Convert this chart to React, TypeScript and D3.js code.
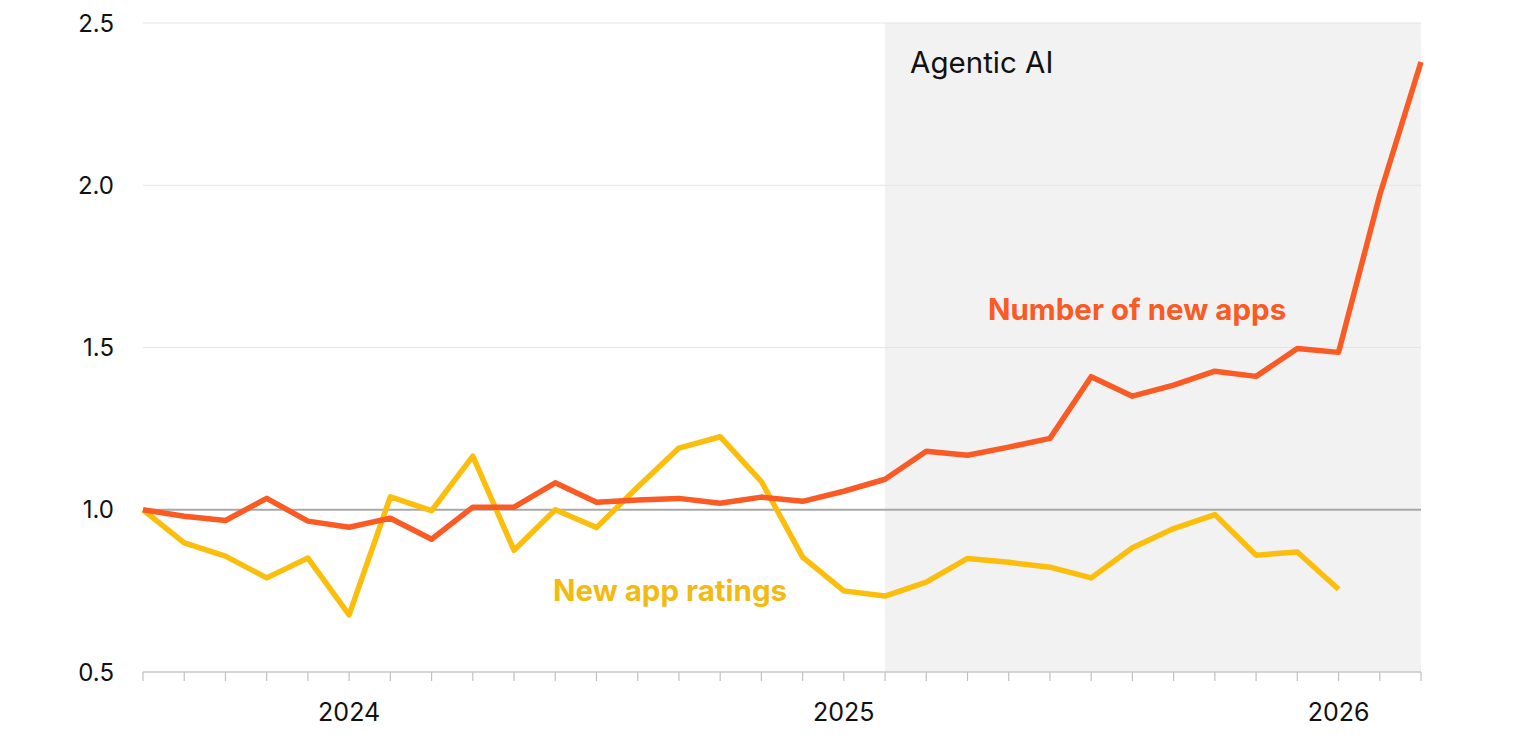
import React from "react";
import * as d3 from "d3";

// monthly index values, Aug 2023 .. Mar 2026
const months = [
  "2023-08", "2023-09", "2023-10", "2023-11", "2023-12",
  "2024-01", "2024-02", "2024-03", "2024-04", "2024-05", "2024-06", "2024-07",
  "2024-08", "2024-09", "2024-10", "2024-11", "2024-12",
  "2025-01", "2025-02", "2025-03", "2025-04", "2025-05", "2025-06", "2025-07",
  "2025-08", "2025-09", "2025-10", "2025-11", "2025-12",
  "2026-01", "2026-02", "2026-03",
];
const newApps = [
  1.0, 0.98, 0.967, 1.035, 0.965, 0.946, 0.974, 0.909, 1.008, 1.008, 1.083, 1.023,
  1.03, 1.035, 1.02, 1.039, 1.026, 1.057, 1.094, 1.18, 1.168, 1.193, 1.22, 1.41,
  1.35, 1.384, 1.427, 1.411, 1.497, 1.485, 1.97, 2.38,
];
const newRatings = [
  1.0, 0.898, 0.857, 0.79, 0.851, 0.676, 1.04, 0.997, 1.165, 0.875, 1.0, 0.945,
  1.07, 1.19, 1.225, 1.087, 0.854, 0.75, 0.734, 0.777, 0.85, 0.838, 0.823, 0.79,
  0.883, 0.942, 0.985, 0.86, 0.87, 0.755,
];
const yTicks = [0.5, 1.0, 1.5, 2.0, 2.5];
const yearLabels = ["2024", "2025", "2026"];
const agenticStart = "2025-02";

const W = 1536;
const H = 735;
const margin = { top: 23, right: 115, bottom: 63, left: 143 };
const FONT = "Inter, 'Noto Sans', sans-serif";

const ORANGE = "#FA5A23";
const YELLOW = "#FCBE0C";

const App: React.FC = () => {
  // evenly spaced months
  const x = d3
    .scalePoint<string>()
    .domain(months)
    .range([margin.left, W - margin.right]);
  const y = d3
    .scaleLinear()
    .domain([0.5, 2.5])
    .range([H - margin.bottom, margin.top]);

  const line = d3
    .line<number>()
    .x((_, i) => x(months[i]) as number)
    .y((d) => y(d));

  const x0 = margin.left;
  const x1 = W - margin.right;
  const yBase = y(0.5);
  const shadeX = x(agenticStart) as number;

  return (
    <svg
      width={W}
      height={H}
      style={{ position: "absolute", left: 0, top: 0, background: "#fff" }}
      fontFamily={FONT}
    >
      {/* agentic AI period */}
      <rect x={shadeX} y={y(2.5)} width={x1 - shadeX} height={yBase - y(2.5)} fill="#F2F2F2" />
      <text x={shadeX + 25} y={y(2.5) + 50} fontSize={29.5} fill="#111">
        Agentic AI
      </text>

      {/* gridlines */}
      {yTicks.filter((v) => v > 1).map((v) => (
        <line key={v} x1={x0} x2={x1} y1={y(v)} y2={y(v)} stroke="#E4E4E4" strokeWidth={1} />
      ))}
      <line x1={x0} x2={x1} y1={y(1)} y2={y(1)} stroke="#A8A8A8" strokeWidth={2} />

      {/* y tick labels */}
      {yTicks.map((v) => (
        <text key={v} x={114} y={y(v)} dy="0.36em" textAnchor="end" fontSize={24} fill="#111">
          {v.toFixed(1)}
        </text>
      ))}

      {/* x axis */}
      <line x1={x0} x2={x1} y1={yBase} y2={yBase} stroke="#C8C8C8" strokeWidth={1.5} />
      {months.map((m) => (
        <line key={m} x1={x(m)} x2={x(m)} y1={yBase} y2={yBase + 9} stroke="#C0C0C0" strokeWidth={1.2} />
      ))}
      {yearLabels.map((yr) => (
        <text
          key={yr}
          x={x(`${yr}-01`)}
          y={yBase + 49}
          textAnchor="middle"
          fontSize={25}
          fill="#111"
        >
          {yr}
        </text>
      ))}

      {/* series */}
      <path d={line(newRatings) || ""} fill="none" stroke={YELLOW} strokeWidth={5.5} strokeLinejoin="round" />
      <path d={line(newApps) || ""} fill="none" stroke={ORANGE} strokeWidth={5.5} strokeLinejoin="round" />

      {/* series labels */}
      <text x={988} y={320} fontSize={29.5} fontWeight={700} fill={ORANGE}>
        Number of new apps
      </text>
      <text x={553} y={601} fontSize={29.5} fontWeight={700} fill="#F2BA12">
        New app ratings
      </text>
    </svg>
  );
};

export default App;
